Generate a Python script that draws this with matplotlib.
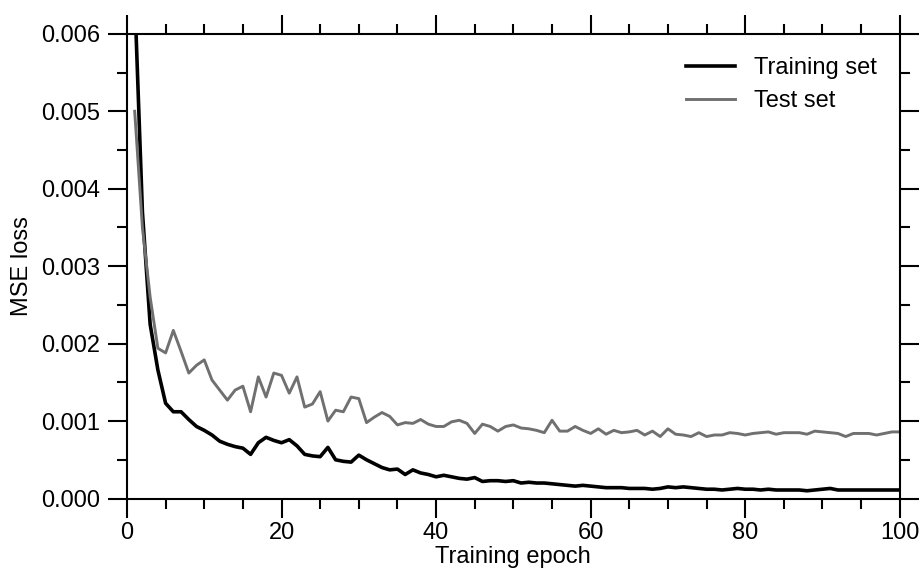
import numpy as np
import matplotlib
matplotlib.use("Agg")
import matplotlib.pyplot as plt
from matplotlib.ticker import MultipleLocator, FormatStrFormatter

plt.rcParams["font.family"] = ["Liberation Sans", "DejaVu Sans"]

# MSE loss per epoch, in units of 1e-3
epochs = np.arange(1, 101)
train_loss = [
    6.5, 3.7, 2.25, 1.66, 1.23, 1.12, 1.12, 1.02, 0.93, 0.88,
    0.82, 0.74, 0.70, 0.67, 0.65, 0.57, 0.72, 0.79, 0.75, 0.72,
    0.76, 0.68, 0.57, 0.55, 0.54, 0.66, 0.50, 0.48, 0.47, 0.56,
    0.50, 0.45, 0.40, 0.37, 0.38, 0.31, 0.37, 0.33, 0.31, 0.28,
    0.30, 0.28, 0.26, 0.25, 0.27, 0.22, 0.23, 0.23, 0.22, 0.23,
    0.20, 0.21, 0.20, 0.20, 0.19, 0.18, 0.17, 0.16, 0.17, 0.16,
    0.15, 0.14, 0.14, 0.14, 0.13, 0.13, 0.13, 0.12, 0.13, 0.15,
    0.14, 0.15, 0.14, 0.13, 0.12, 0.12, 0.11, 0.12, 0.13, 0.12,
    0.12, 0.11, 0.12, 0.11, 0.11, 0.11, 0.11, 0.10, 0.11, 0.12,
    0.13, 0.11, 0.11, 0.11, 0.11, 0.11, 0.11, 0.11, 0.11, 0.11,
]
test_loss = [
    5.0, 3.5, 2.6, 1.94, 1.88, 2.17, 1.90, 1.62, 1.72, 1.79,
    1.53, 1.40, 1.27, 1.40, 1.45, 1.12, 1.57, 1.31, 1.62, 1.59,
    1.36, 1.57, 1.18, 1.22, 1.38, 1.00, 1.14, 1.12, 1.31, 1.29,
    0.98, 1.05, 1.11, 1.06, 0.95, 0.98, 0.97, 1.02, 0.96, 0.93,
    0.93, 0.99, 1.01, 0.97, 0.84, 0.96, 0.93, 0.87, 0.93, 0.95,
    0.91, 0.90, 0.88, 0.85, 1.01, 0.87, 0.87, 0.93, 0.88, 0.84,
    0.90, 0.83, 0.88, 0.85, 0.86, 0.88, 0.82, 0.87, 0.80, 0.90,
    0.83, 0.82, 0.80, 0.85, 0.80, 0.82, 0.82, 0.85, 0.84, 0.82,
    0.84, 0.85, 0.86, 0.83, 0.85, 0.85, 0.85, 0.83, 0.87, 0.86,
    0.85, 0.84, 0.80, 0.84, 0.84, 0.84, 0.82, 0.84, 0.86, 0.86,
]

train = np.array(train_loss) * 1e-3
test = np.array(test_loss) * 1e-3

fig = plt.figure(figsize=(9.2, 5.73), dpi=100)
ax = fig.add_axes([0.138, 0.130, 0.840, 0.811])

ax.plot(epochs, train, color="black", lw=2.6, label="Training set")
ax.plot(epochs, test, color="#707070", lw=2.1, label="Test set")

ax.set_xlim(0, 100)
ax.set_ylim(0, 0.006)
ax.xaxis.set_major_locator(MultipleLocator(20))
ax.xaxis.set_minor_locator(MultipleLocator(5))
ax.yaxis.set_major_locator(MultipleLocator(0.001))
ax.yaxis.set_minor_locator(MultipleLocator(0.0005))
ax.yaxis.set_major_formatter(FormatStrFormatter("%.3f"))

for s in ax.spines.values():
    s.set_linewidth(1.5)
ax.tick_params(which="both", direction="out", top=True, right=True,
               width=1.5, labelsize=17)
ax.tick_params(which="major", length=14)
ax.tick_params(which="minor", length=7)
ax.tick_params(axis="y", pad=5)
ax.tick_params(axis="x", pad=3)

ax.set_xlabel("Training epoch", fontsize=17, labelpad=1)
ax.set_ylabel("MSE loss", fontsize=17, labelpad=6)

ax.legend(loc="upper right", frameon=False, fontsize=17,
          handlelength=2.1, handletextpad=0.8, labelspacing=0.45,
          borderaxespad=0.5, bbox_to_anchor=(0.998, 0.995))

fig.savefig("out.png", dpi=100)
